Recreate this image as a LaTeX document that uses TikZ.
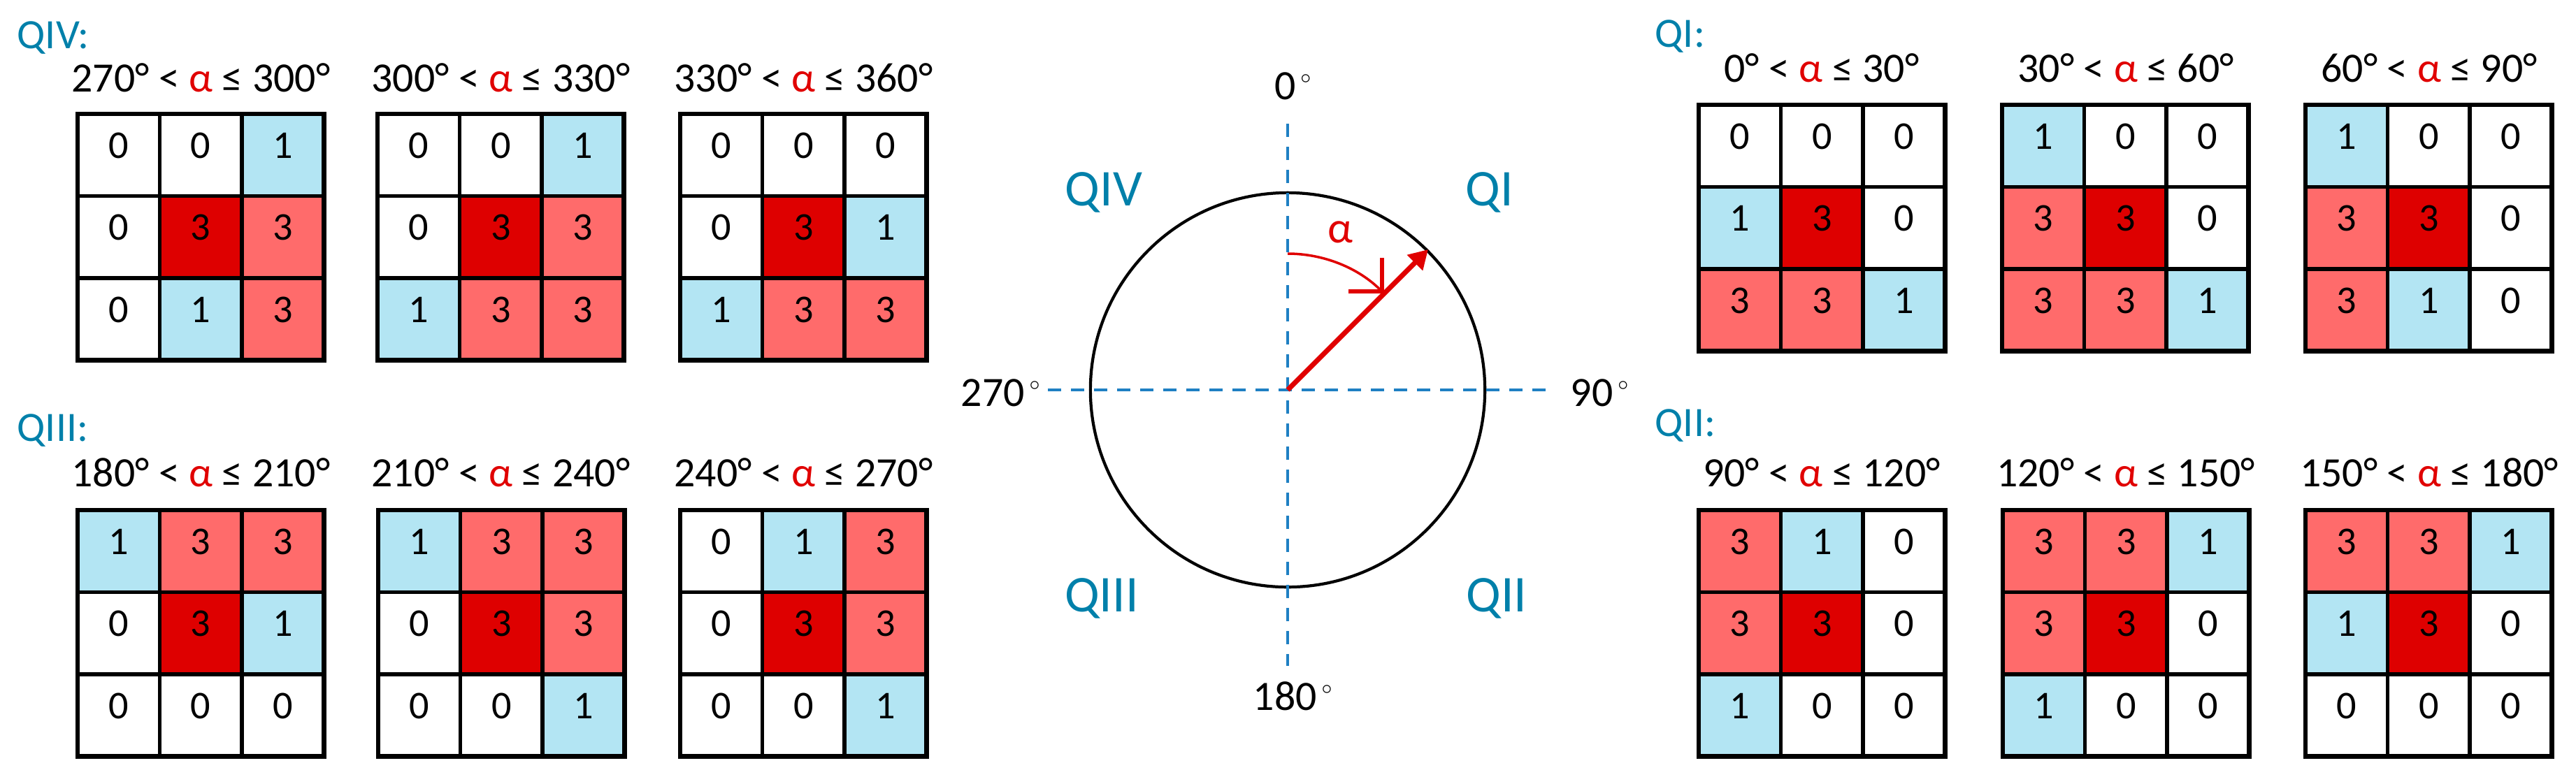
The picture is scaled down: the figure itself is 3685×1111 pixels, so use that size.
\documentclass[tikz,border=0pt]{standalone}
\usepackage{fontspec}
\setmainfont{Carlito}
\usetikzlibrary{arrows.meta}
\definecolor{c0}{HTML}{FFFFFF}
\definecolor{c1}{HTML}{B3E5F3}
\definecolor{c3}{HTML}{FF6B6B}
\definecolor{c4}{HTML}{DE0000}
\definecolor{qblue}{HTML}{0080AA}
\definecolor{dashblue}{HTML}{1F80C3}
\definecolor{ared}{HTML}{E00000}
\newcommand{\cellgrid}[4]{%
  \foreach \v [count=\i from 0] in {#4} {%
    \pgfmathtruncatemacro{\rr}{\i/3}%
    \pgfmathtruncatemacro{\cc}{\i-3*\rr}%
    \node[cellbox, fill=c\v] (#3-\i) at ({#1+117.5*\cc+58.75},{#2+117.5*\rr+58.75}) {\ifnum\v=4 3\else\v\fi};
  }
  \draw[gridframe] (#1,#2) rectangle ++(352.5,352.5);
}
\newcommand{\rangetxt}[2]{#1° < \textcolor{ared}{α} ≤ #2°}
\begin{document}
\begin{tikzpicture}[x=0.01cm,y=-0.01cm,
  cellbox/.style={draw=black, line width=1.45pt, minimum size=1.175cm, inner sep=0pt,
    text height=0.40cm, text depth=0.31cm, font=\fontsize{16}{19}\selectfont},
  gridframe/.style={draw=black, line width=1.8pt},
  rangetitle/.style={anchor=base, inner sep=0pt, font=\fontsize{17}{20}\selectfont},
  quadtitle/.style={anchor=base west, inner sep=0pt, text=qblue, font=\fontsize{17}{20}\selectfont},
  circq/.style={anchor=base, inner sep=0pt, text=qblue, font=\fontsize{21}{25}\selectfont},
  deglabel/.style={anchor=base, inner sep=0pt, font=\fontsize{17}{20}\selectfont},
  axisline/.style={draw=dashblue, line width=1.4pt, dash pattern=on 0.19cm off 0.14cm},
]
\useasboundingbox (0,0) rectangle (3685,1111);

% ---------- QIV ----------
\node[quadtitle] (lq4) at (24,69) {QIV:};
\node[rangetitle] (t4a) at (287.5,131) {\rangetxt{270}{300}};
\node[rangetitle] (t4b) at (716.5,131) {\rangetxt{300}{330}};
\node[rangetitle] (t4c) at (1149.5,131) {\rangetxt{330}{360}};
\cellgrid{111}{163}{q4a}{0,0,1,0,4,3,0,1,3}
\cellgrid{540}{163}{q4b}{0,0,1,0,4,3,1,3,3}
\cellgrid{973}{163}{q4c}{0,0,0,0,4,1,1,3,3}

% ---------- QIII ----------
\node[quadtitle] (lq3) at (24,631) {QIII:};
\node[rangetitle] (t3a) at (287.5,696) {\rangetxt{180}{210}};
\node[rangetitle] (t3b) at (716.5,696) {\rangetxt{210}{240}};
\node[rangetitle] (t3c) at (1149.5,696) {\rangetxt{240}{270}};
\cellgrid{111}{730}{q3a}{1,3,3,0,4,1,0,0,0}
\cellgrid{541}{730}{q3b}{1,3,3,0,4,3,0,0,1}
\cellgrid{973}{730}{q3c}{0,1,3,0,4,3,0,0,1}

% ---------- QI ----------
\node[quadtitle] (lq1) at (2367,67) {QI:};
\node[rangetitle] (t1a) at (2606,117) {\rangetxt{0}{30}};
\node[rangetitle] (t1b) at (3041,117) {\rangetxt{30}{60}};
\node[rangetitle] (t1c) at (3475,117) {\rangetxt{60}{90}};
\cellgrid{2430}{150}{q1a}{0,0,0,1,4,0,3,3,1}
\cellgrid{2864}{150}{q1b}{1,0,0,3,4,0,3,3,1}
\cellgrid{3298}{150}{q1c}{1,0,0,3,4,0,3,1,0}

% ---------- QII ----------
\node[quadtitle] (lq2) at (2367,624) {QII:};
\node[rangetitle] (t2a) at (2606,696) {\rangetxt{90}{120}};
\node[rangetitle] (t2b) at (3041,696) {\rangetxt{120}{150}};
\node[rangetitle] (t2c) at (3475,696) {\rangetxt{150}{180}};
\cellgrid{2430}{730}{q2a}{3,1,0,3,4,0,1,0,0}
\cellgrid{2865}{730}{q2b}{3,3,1,3,4,0,1,0,0}
\cellgrid{3298}{730}{q2c}{3,3,1,1,4,0,0,0,0}

% ---------- circle ----------
\coordinate (hl) at (1499,558);
\coordinate (hr) at (2213,558);
\coordinate (vt) at (1842,177);
\coordinate (vb) at (1842,953);
\node[circle, draw=black, line width=1.2pt, minimum size=5.64cm, inner sep=0pt] (circ) at (1842,558) {};
\draw[axisline] (hl) -- (hr);
\draw[axisline] (vt) -- (vb);
\draw[draw=ared, line width=2pt, -{Triangle[length=0.27cm, width=0.30cm]}] (circ.center) -- (circ.45);
\coordinate (arcstart) at (1842,363);
\draw[draw=ared, line width=1pt, -{Straight Barb[length=0.34cm, width=0.68cm, line width=1.7pt]}]
  (arcstart) arc[start angle=-90, end angle=-45, radius=195];
\node[anchor=base, inner sep=0pt, text=ared, font=\fontsize{18}{21}\selectfont] (alpha) at (1917,347) {α};

\node[deglabel] (d0) at (1850,142) {0\hspace{2pt}$^{\scriptscriptstyle\circ}$};
\node[deglabel] (d270) at (1432,581) {270\hspace{2pt}$^{\scriptscriptstyle\circ}$};
\node[deglabel] (d90) at (2289,581) {90\hspace{2pt}$^{\scriptscriptstyle\circ}$};
\node[deglabel] (d180) at (1850,1016) {180\hspace{2pt}$^{\scriptscriptstyle\circ}$};

\node[circq] (cq4) at (1579,294) {QIV};
\node[circq] (cq1) at (2131,294) {QI};
\node[circq] (cq3) at (1576,875) {QIII};
\node[circq] (cq2) at (2141,875) {QII};
\end{tikzpicture}
\end{document}
